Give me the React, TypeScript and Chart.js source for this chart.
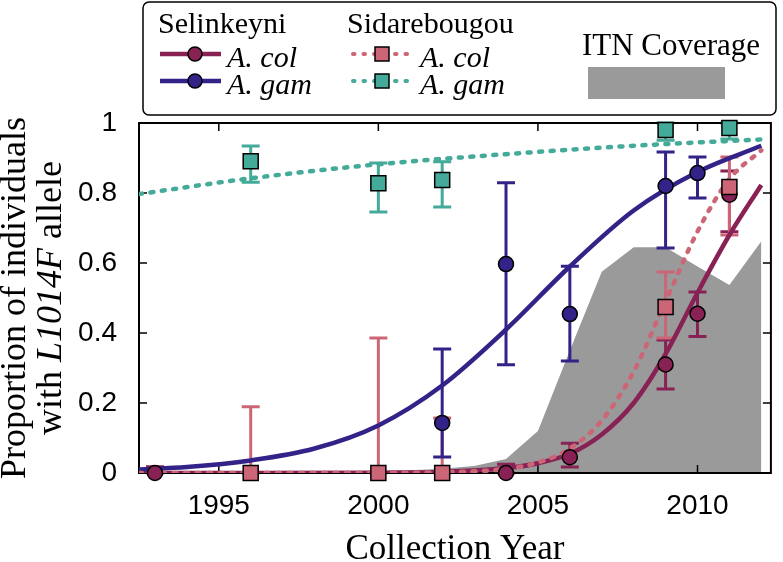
import React, { useEffect, useRef } from "react";
import { Chart, registerables } from "chart.js";

Chart.register(...registerables);

// ---------- axis ticks ----------
const xTickValues = [1995, 2000, 2005, 2010];
const yTickValues = [0, 0.2, 0.4, 0.6, 0.8, 1];

// ---------- observed data (Selinkeyni) ----------
const selColYears = [1993, 2004, 2006, 2009, 2010, 2011];
const selColValues = [0, 0, 0.045, 0.31, 0.455, 0.795];
const selColLow = [0, 0, 0.017, 0.24, 0.39, 0.689];
const selColHigh = [0.018, 0.025, 0.085, 0.38, 0.517, 0.863];

const selGamYears = [2002, 2004, 2006, 2009, 2010];
const selGamValues = [0.143, 0.597, 0.454, 0.82, 0.857];
const selGamLow = [0.046, 0.309, 0.32, 0.643, 0.786];
const selGamHigh = [0.354, 0.829, 0.591, 0.917, 0.903];

// ---------- observed data (Sidarebougou) ----------
const sidColYears = [1996, 2000, 2002, 2009, 2011];
const sidColValues = [0, 0, 0, 0.474, 0.817];
const sidColLow = [0, 0, 0, 0.386, 0.68];
const sidColHigh = [0.189, 0.386, 0.157, 0.574, 0.903];

const sidGamYears = [1996, 2000, 2002, 2009, 2011];
const sidGamValues = [0.891, 0.828, 0.837, 0.98, 0.986];
const sidGamLow = [0.831, 0.746, 0.76, 0.951, 0.954];
const sidGamHigh = [0.934, 0.886, 0.889, 1.0, 1.0];

// ---------- fitted curves ----------
const selColFitYears = [1992.5, 1996, 2000, 2002, 2004, 2005, 2006, 2007, 2008, 2009, 2010, 2011, 2012];
const selColFitValues = [0, 0, 0.001, 0.003, 0.014, 0.028, 0.055, 0.11, 0.2, 0.34, 0.515, 0.68, 0.823];

const selGamFitYears = [1992.5, 1994, 1996, 1998, 2000, 2002, 2004, 2006, 2008, 2010, 2012];
const selGamFitValues = [0.01, 0.017, 0.036, 0.07, 0.136, 0.25, 0.41, 0.59, 0.75, 0.86, 0.935];

const sidColFitYears = [1992.5, 1996, 2000, 2002, 2004, 2005, 2006, 2007, 2008, 2009, 2010, 2011, 2012];
const sidColFitValues = [0, 0, 0.0005, 0.002, 0.012, 0.03, 0.07, 0.15, 0.29, 0.49, 0.69, 0.84, 0.922];

const sidGamFitYears = [1992.5, 1996, 2000, 2004, 2008, 2012];
const sidGamFitValues = [0.797, 0.842, 0.882, 0.911, 0.935, 0.953];

// ---------- ITN coverage ----------
const itnYears = [2000, 2001, 2002, 2003, 2004, 2005, 2006, 2007, 2008, 2009, 2010, 2011, 2012];
const itnCoverage = [0.003, 0.008, 0.012, 0.02, 0.04, 0.12, 0.35, 0.575, 0.645, 0.645, 0.59, 0.537, 0.662];

// ---------- styling ----------
const C_SEL_COL = "#882255";
const C_SEL_GAM = "#332288";
const C_SID_COL = "#CC6677";
const C_SID_GAM = "#44AA99";
const C_ITN = "#9a9a9a";

const SERIF = "'Liberation Serif', 'Times New Roman', serif";
const SANS = "'Liberation Sans', Arial, sans-serif";

const pts = (xs: number[], ys: number[]) => xs.map((x, i) => ({ x, y: ys[i] }));

const errorSeries = [
  { color: C_SEL_COL, years: selColYears, low: selColLow, high: selColHigh },
  { color: C_SID_COL, years: sidColYears, low: sidColLow, high: sidColHigh },
  { color: C_SEL_GAM, years: selGamYears, low: selGamLow, high: selGamHigh },
  { color: C_SID_GAM, years: sidGamYears, low: sidGamLow, high: sidGamHigh },
];

function drawFrameAndErrors(chart: any) {
  const ctx = chart.ctx;
  const { left, right, top, bottom } = chart.chartArea;
  const xs = chart.scales.x;
  const ys = chart.scales.y;
  ctx.save();
  // error bars
  ctx.lineWidth = 3;
  ctx.lineCap = "butt";
  for (const s of errorSeries) {
    ctx.strokeStyle = s.color;
    s.years.forEach((yr, i) => {
      const px = xs.getPixelForValue(yr);
      const lo = ys.getPixelForValue(s.low[i]);
      const hi = ys.getPixelForValue(s.high[i]);
      ctx.beginPath();
      ctx.moveTo(px, lo);
      ctx.lineTo(px, hi);
      ctx.moveTo(px - 9, lo);
      ctx.lineTo(px + 9, lo);
      ctx.moveTo(px - 9, hi);
      ctx.lineTo(px + 9, hi);
      ctx.stroke();
    });
  }
  // frame
  ctx.strokeStyle = "#000";
  ctx.lineWidth = 2;
  ctx.strokeRect(left, top, right - left, bottom - top);
  ctx.lineWidth = 1.5;
  ctx.beginPath();
  for (const v of xTickValues) {
    const px = xs.getPixelForValue(v);
    ctx.moveTo(px, bottom);
    ctx.lineTo(px, bottom - 8);
    ctx.moveTo(px, top);
    ctx.lineTo(px, top + 8);
  }
  for (const v of yTickValues) {
    const py = ys.getPixelForValue(v);
    ctx.moveTo(left, py);
    ctx.lineTo(left + 8, py);
    ctx.moveTo(right, py);
    ctx.lineTo(right - 8, py);
  }
  ctx.stroke();
  ctx.restore();
}

function drawTitles(chart: any) {
  const ctx = chart.ctx;
  const { left, right, top, bottom } = chart.chartArea;
  ctx.save();
  ctx.fillStyle = "#000";
  // x title
  ctx.font = `35px ${SERIF}`;
  ctx.textAlign = "center";
  ctx.textBaseline = "alphabetic";
  ctx.fillText("Collection Year", (left + right) / 2, 559);

  // y title (two lines, rotated)
  const cy = (top + bottom) / 2;
  const size = 36;
  ctx.textAlign = "left";
  ctx.save();
  ctx.translate(25, cy);
  ctx.rotate(-Math.PI / 2);
  ctx.font = `${size}px ${SERIF}`;
  const l1 = "Proportion of individuals";
  const w1 = ctx.measureText(l1).width;
  ctx.fillText(l1, -w1 / 2, 0);
  ctx.restore();

  ctx.save();
  ctx.translate(61, cy);
  ctx.rotate(-Math.PI / 2);
  const parts = [
    { t: "with ", it: false },
    { t: "L1014F", it: true },
    { t: " allele", it: false },
  ];
  let total = 0;
  const widths = parts.map((p) => {
    ctx.font = `${p.it ? "italic " : ""}${size}px ${SERIF}`;
    const w = ctx.measureText(p.t).width;
    total += w;
    return w;
  });
  let x = -total / 2;
  parts.forEach((p, i) => {
    ctx.font = `${p.it ? "italic " : ""}${size}px ${SERIF}`;
    ctx.fillText(p.t, x, 0);
    x += widths[i];
  });
  ctx.restore();
  ctx.restore();
}

function drawLegend(chart: any) {
  const ctx = chart.ctx;
  ctx.save();
  // box
  ctx.fillStyle = "#fff";
  ctx.strokeStyle = "#000";
  ctx.lineWidth = 1.5;
  ctx.beginPath();
  (ctx as any).roundRect(143, 2, 633, 113, 6);
  ctx.fill();
  ctx.stroke();

  ctx.fillStyle = "#000";
  ctx.textAlign = "left";
  ctx.textBaseline = "alphabetic";
  ctx.font = `30px ${SERIF}`;
  ctx.fillText("Selinkeyni", 158, 33);
  ctx.fillText("Sidarebougou", 347, 33);

  const solidRow = (y: number, color: string, label: string) => {
    ctx.strokeStyle = color;
    ctx.lineWidth = 4.5;
    ctx.setLineDash([]);
    ctx.lineCap = "butt";
    ctx.beginPath();
    ctx.moveTo(160, y);
    ctx.lineTo(221, y);
    ctx.stroke();
    ctx.beginPath();
    ctx.arc(195, y, 7, 0, Math.PI * 2);
    ctx.fillStyle = color;
    ctx.fill();
    ctx.lineWidth = 1.5;
    ctx.strokeStyle = "#000";
    ctx.stroke();
    ctx.fillStyle = "#000";
    ctx.font = `italic 30px ${SERIF}`;
    ctx.fillText(label, 227, y + 13);
  };
  const dotRow = (y: number, color: string, label: string) => {
    ctx.strokeStyle = color;
    ctx.lineWidth = 4;
    ctx.lineCap = "round";
    ctx.setLineDash([1.5, 9]);
    ctx.beginPath();
    ctx.moveTo(353, y);
    ctx.lineTo(412, y);
    ctx.stroke();
    ctx.setLineDash([]);
    ctx.lineCap = "butt";
    ctx.fillStyle = color;
    ctx.fillRect(375, y - 7, 14, 14);
    ctx.lineWidth = 1.5;
    ctx.strokeStyle = "#000";
    ctx.strokeRect(375, y - 7, 14, 14);
    ctx.fillStyle = "#000";
    ctx.font = `italic 30px ${SERIF}`;
    ctx.fillText(label, 420, y + 13);
  };
  solidRow(54, C_SEL_COL, "A. col");
  solidRow(81, C_SEL_GAM, "A. gam");
  dotRow(54, C_SID_COL, "A. col");
  dotRow(81, C_SID_GAM, "A. gam");

  ctx.fillStyle = "#000";
  ctx.font = `31px ${SERIF}`;
  ctx.textAlign = "center";
  ctx.fillText("ITN Coverage", 671, 55);
  ctx.fillStyle = C_ITN;
  ctx.fillRect(588, 67, 137, 32);
  ctx.restore();
}

const overlayPlugin = {
  id: "overlay",
  afterDatasetDraw(chart: any, args: any) {
    if (args.meta && args.meta._dataset && args.meta._dataset.label === "ITN Coverage") {
      drawFrameAndErrors(chart);
    }
  },
  afterDraw(chart: any) {
    drawTitles(chart);
    drawLegend(chart);
  },
};

export default function App() {
  const ref = useRef<HTMLCanvasElement | null>(null);

  useEffect(() => {
    document.body.style.margin = "0";
    if (!ref.current) return;

    const marker = (label: string, xs: number[], ys: number[], color: string, style: string, order: number) => ({
      type: "line" as const,
      label,
      data: pts(xs, ys),
      showLine: false,
      pointStyle: style,
      pointRadius: style === "rect" ? 10.6 : 7.5,
      pointBackgroundColor: color,
      pointBorderColor: "#000",
      pointBorderWidth: 1.5,
      clip: false as any,
      order,
    });
    const curve = (label: string, xs: number[], ys: number[], color: string, dotted: boolean, order: number) => ({
      type: "line" as const,
      label,
      data: pts(xs, ys),
      borderColor: color,
      borderWidth: 4.5,
      borderDash: dotted ? [3, 8.5] : [],
      borderCapStyle: dotted ? "round" : "butt",
      pointRadius: 0,
      cubicInterpolationMode: "monotone" as const,
      fill: false,
      order,
    });

    const chart = new Chart(ref.current, {
      type: "line",
      data: {
        datasets: [
          marker("Sidarebougou A. gam", sidGamYears, sidGamValues, C_SID_GAM, "rect", 0),
          marker("Sidarebougou A. col", sidColYears, sidColValues, C_SID_COL, "rect", 1),
          marker("Selinkeyni A. gam", selGamYears, selGamValues, C_SEL_GAM, "circle", 2),
          marker("Selinkeyni A. col", selColYears, selColValues, C_SEL_COL, "circle", 3),
          curve("Sidarebougou A. gam fit", sidGamFitYears, sidGamFitValues, C_SID_GAM, true, 4),
          curve("Sidarebougou A. col fit", sidColFitYears, sidColFitValues, C_SID_COL, true, 5),
          curve("Selinkeyni A. gam fit", selGamFitYears, selGamFitValues, C_SEL_GAM, false, 6),
          curve("Selinkeyni A. col fit", selColFitYears, selColFitValues, C_SEL_COL, false, 7),
          {
            type: "line",
            label: "ITN Coverage",
            data: pts(itnYears, itnCoverage),
            borderWidth: 0,
            borderColor: C_ITN,
            backgroundColor: C_ITN,
            fill: "origin",
            pointRadius: 0,
            tension: 0,
            order: 20,
          },
        ] as any,
      },
      options: {
        animation: false,
        responsive: false,
        devicePixelRatio: 1,
        events: [],
        layout: { padding: { top: 123, right: 3, left: 0, bottom: 0 } },
        plugins: {
          legend: { display: false },
          tooltip: { enabled: false },
          title: { display: false },
        },
        scales: {
          x: {
            type: "linear",
            min: 1992.5,
            max: 2012.3,
            grid: { display: false },
            border: { display: false },
            ticks: {
              font: { family: SANS, size: 28 },
              color: "#000",
              padding: 8,
              includeBounds: false,
              maxRotation: 0,
              autoSkip: false,
              callback: (v: any) => String(v),
            },
            afterBuildTicks: (s: any) => {
              s.ticks = xTickValues.map((v) => ({ value: v }));
            },
            afterFit: (s: any) => {
              s.height = 89;
            },
          },
          y: {
            type: "linear",
            min: 0,
            max: 1,
            grid: { display: false },
            border: { display: false },
            ticks: {
              font: { family: SANS, size: 28 },
              color: "#000",
              padding: 14,
              includeBounds: false,
              autoSkip: false,
              callback: (v: any) => String(v),
            },
            afterBuildTicks: (s: any) => {
              s.ticks = yTickValues.map((v) => ({ value: v }));
            },
            afterFit: (s: any) => {
              s.width = 139;
            },
          },
        },
      } as any,
      plugins: [overlayPlugin],
    });
    return () => chart.destroy();
  }, []);

  return (
    <div style={{ position: "absolute", left: 0, top: 0, width: 783, height: 562 }}>
      <canvas ref={ref} width={783} height={562} style={{ display: "block" }} />
    </div>
  );
}
